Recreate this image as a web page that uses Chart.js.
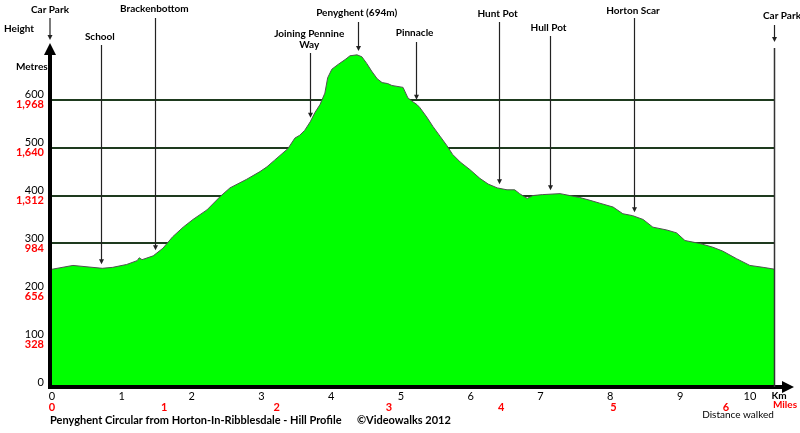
<!DOCTYPE html>
<html>
<head>
<meta charset="utf-8">
<script src="https://cdn.jsdelivr.net/npm/chart.js@4.4.0/dist/chart.umd.min.js"></script>
<style>
  html, body { margin: 0; padding: 0; background: #fff; }
  #wrap { width: 800px; height: 433px; }
</style>
</head>
<body>
<div id="wrap"><canvas id="profile"></canvas></div>
<script>
// profile: distance along the walk (km) and height (m)
const distanceKm = [0.00, 0.30, 0.72, 0.87, 1.07, 1.22, 1.25, 1.29, 1.45, 1.59, 1.73, 1.88, 2.02, 2.22, 2.41,
  2.55, 2.79, 2.98, 3.08, 3.19, 3.38, 3.48, 3.55, 3.62, 3.70, 3.77, 3.84, 3.91, 3.95, 4.01, 4.10, 4.20, 4.27,
  4.37, 4.44, 4.51, 4.58, 4.66, 4.73, 4.81, 4.87, 5.03, 5.10, 5.17, 5.23, 5.27, 5.37, 5.46, 5.56, 5.66, 5.74,
  5.85, 5.99, 6.13, 6.25, 6.38, 6.52, 6.63, 6.70, 6.81, 6.89, 7.03, 7.28, 7.42, 7.56, 7.71, 7.85, 8.04, 8.18,
  8.32, 8.47, 8.61, 8.81, 8.95, 9.07, 9.28, 9.47, 9.61, 9.81, 10.00, 10.19, 10.36];
const heightM = [246, 254, 248, 250, 256, 264, 270, 266, 274, 290, 314, 334, 350, 370, 398,
  416, 434, 450, 460, 474, 498, 520, 526, 536, 554, 574, 590, 614, 646, 664, 674, 684, 692,
  694, 690, 676, 660, 644, 636, 634, 630, 626, 604, 596, 590, 584, 564, 544, 524, 504, 486,
  470, 454, 436, 424, 416, 412, 412, 404, 394, 400, 402, 404, 400, 396, 390, 384, 376, 362,
  358, 350, 334, 328, 322, 306, 300, 292, 284, 268, 254, 250, 246];

const routeKm = 10.36;
const kmPerMile = 1.609344;
const metresToFeet = 3.28;
const heightTicks = [0, 100, 200, 300, 400, 500, 600];

const landmarkNames = ['School', 'Brackenbottom', ['Joining Pennine', 'Way'], 'Penyghent (694m)', 'Pinnacle',
  'Hunt Pot', 'Hull Pot', 'Horton Scar'];
const landmarkKm = [0.70, 1.48, 3.70, 4.38, 5.21, 6.40, 7.13, 8.34];
const carParkKm = [0, routeKm];

// where each landmark label sits (label centre y, top of its pointer line)
const labelY = [37, 9, 34, 13, 33, 14, 28, 11];
const lineTop = [45, 18, 53, 22, 42, 22, 36, 18];

const FONT = 'Lato, "Open Sans", sans-serif';

function heightAt(km) {
  for (let i = 1; i < distanceKm.length; i++) {
    if (km <= distanceKm[i]) {
      const t = (km - distanceKm[i - 1]) / (distanceKm[i] - distanceKm[i - 1]);
      return heightM[i - 1] + t * (heightM[i] - heightM[i - 1]);
    }
  }
  return heightM[heightM.length - 1];
}

function arrowDown(ctx, x, y) {
  ctx.beginPath();
  ctx.moveTo(x, y);
  ctx.lineTo(x - 2.5, y - 5);
  ctx.lineTo(x + 2.5, y - 5);
  ctx.closePath();
  ctx.fill();
}

const keepTicks = (scale) => { scale.ticks = scale.ticks.filter(t => heightTicks.includes(t.value)); };

const overlay = {
  id: 'overlay',
  afterDraw(chart) {
    const { ctx, chartArea: a } = chart;
    const x = chart.scales.x, y = chart.scales.y;
    ctx.save();
    ctx.fillStyle = '#000';
    ctx.strokeStyle = '#000';

    // y axis with arrow
    ctx.fillRect(a.left - 4, 52, 4, a.bottom - 50);
    ctx.beginPath();
    ctx.moveTo(a.left - 2, 43); ctx.lineTo(a.left - 8, 55); ctx.lineTo(a.left + 4, 55); ctx.closePath(); ctx.fill();
    // x axis with arrow
    ctx.fillRect(a.left - 4, a.bottom - 2, 786 - a.left, 4);
    ctx.beginPath();
    ctx.moveTo(794, a.bottom); ctx.lineTo(782, a.bottom - 6); ctx.lineTo(782, a.bottom + 6); ctx.closePath(); ctx.fill();

    // feet labels under the metre labels
    ctx.fillStyle = '#ff0000';
    ctx.font = 'bold 11px ' + FONT;
    ctx.textAlign = 'right';
    ctx.textBaseline = 'middle';
    heightTicks.forEach(v => {
      if (v === 0) return;
      ctx.fillText(Math.round(v * metresToFeet).toLocaleString('en-GB'), a.left - 8, y.getPixelForValue(v) + 5);
    });

    // landmark pointers
    ctx.strokeStyle = '#222';
    ctx.fillStyle = '#222';
    ctx.lineWidth = 1.2;
    landmarkKm.forEach((km, i) => {
      const px = Math.round(x.getPixelForValue(km)) + 0.5;
      const tip = y.getPixelForValue(heightAt(km)) - 4;
      ctx.beginPath(); ctx.moveTo(px, lineTop[i]); ctx.lineTo(px, tip - 4); ctx.stroke();
      arrowDown(ctx, px, tip);
    });

    // car parks
    const cl = x.getPixelForValue(carParkKm[0]) - 2;
    ctx.beginPath(); ctx.moveTo(cl, 18); ctx.lineTo(cl, 36); ctx.stroke();
    arrowDown(ctx, cl, 40);
    const cr = Math.round(x.getPixelForValue(carParkKm[1])) - 0.5;
    ctx.beginPath(); ctx.moveTo(cr, 25); ctx.lineTo(cr, 38); ctx.stroke();
    arrowDown(ctx, cr, 42);
    ctx.strokeStyle = '#333';
    ctx.lineWidth = 1.5;
    ctx.beginPath(); ctx.moveTo(cr, 48); ctx.lineTo(cr, a.bottom); ctx.stroke();

    // labels
    ctx.fillStyle = '#000';
    ctx.font = 'bold 10px ' + FONT;
    ctx.textAlign = 'center';
    landmarkNames.forEach((name, i) => {
      const px = x.getPixelForValue(landmarkKm[i]);
      const lines = Array.isArray(name) ? name : [name];
      lines.forEach((s, j) => ctx.fillText(s, px - 1, labelY[i] + j * 11));
    });
    ctx.fillText('Car Park', 50, 10);
    ctx.fillText('Car Park', 782, 16);
    ctx.textAlign = 'left';
    ctx.fillText('Height', 4, 29);
    ctx.fillText('Metres', 16, 67);

    ctx.textAlign = 'center';
    ctx.fillText('Km', 779, 396);
    ctx.fillStyle = '#ff0000';
    ctx.fillText('Miles', 785, 405);
    ctx.fillStyle = '#000';
    ctx.font = '10px ' + FONT;
    ctx.fillText('Distance walked', 738, 415);

    ctx.textAlign = 'left';
    ctx.font = 'bold 11px ' + FONT;
    ctx.fillText('Penyghent Circular from Horton-In-Ribblesdale - Hill Profile', 50, 420);
    ctx.fillText('\u00A9Videowalks 2012', 357, 420);
    ctx.restore();
  }
};

new Chart(document.getElementById('profile'), {
  type: 'line',
  data: {
    datasets: [{
      data: distanceKm.map((d, i) => ({ x: d, y: heightM[i] })),
      fill: 'origin',
      backgroundColor: '#00ff00',
      borderColor: '#505050',
      borderWidth: 1,
      pointRadius: 0,
      tension: 0
    }]
  },
  options: {
    responsive: true,
    maintainAspectRatio: false,
    animation: false,
    layout: { padding: { top: 40, right: 25, bottom: 18, left: 0 } },
    plugins: { legend: { display: false }, tooltip: { enabled: false } },
    scales: {
      x: {
        type: 'linear', position: 'bottom', weight: 0,
        min: 0, max: routeKm,
        grid: { display: false, drawTicks: false }, border: { display: false },
        ticks: { stepSize: 1, includeBounds: false, color: '#000', padding: 3, maxRotation: 0,
          font: { family: FONT, size: 11 } },
        afterFit: s => { s.height = 14; }
      },
      miles: {
        type: 'linear', position: 'bottom', weight: 1,
        min: 0, max: routeKm / kmPerMile,
        grid: { display: false, drawTicks: false }, border: { display: false },
        ticks: { stepSize: 1, includeBounds: false, color: '#ff0000', padding: 0, maxRotation: 0,
          font: { family: FONT, size: 11, weight: 'bold' } },
        afterFit: s => { s.height = 14; }
      },
      y: {
        position: 'left', z: 1,
        min: 0, max: 725,
        afterBuildTicks: keepTicks,
        grid: { color: '#1e3a1e', lineWidth: 2, drawTicks: false },
        border: { display: false },
        ticks: { stepSize: 100, color: '#000', padding: 8, labelOffset: -5,
          font: { family: FONT, size: 11 } },
        afterFit: s => { s.width = 52; }
      }
    }
  },
  plugins: [overlay]
});
</script>
</body>
</html>
